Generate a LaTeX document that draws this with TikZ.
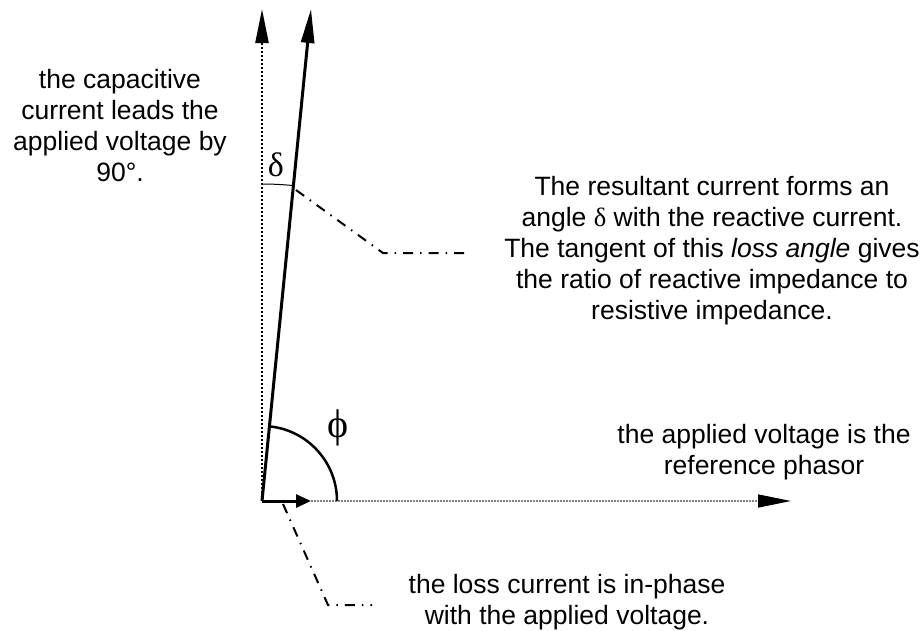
\documentclass[tikz,border=0pt]{standalone}
\usepackage{fontspec}
\setmainfont{Liberation Sans}
\newfontfamily\greekfont{Liberation Serif}
\usetikzlibrary{arrows.meta,calc}

\tikzset{
  phasor/.style={line width=3pt, -{Triangle[length=34pt,width=13pt]}},
  leader/.style={line width=2pt, dash pattern=on 10pt off 7pt on 1.5pt off 7pt},
  note/.style={align=center, inner sep=0pt, anchor=north, font=\fontsize{26.5}{31}\selectfont},
  angsym/.style={inner sep=0pt, font=\greekfont\fontsize{34}{34}\selectfont}
}

\begin{document}
\begin{tikzpicture}[x=1pt,y=-1pt]
  \useasboundingbox (0,0) rectangle (924,630);
  % phasor ends
  \coordinate (O) at (262,501);
  \coordinate (vtip) at (262,9);
  \coordinate (rtip) at (311,9);
  \coordinate (ltip) at (311,501);
  \coordinate (htip) at (791,501);
  % reactive current, resultant, loss current, applied voltage
  \draw[phasor, line width=2.2pt, dash pattern=on 2pt off 2pt] (O) -- (vtip);
  \draw[phasor] (O) -- (rtip);
  \draw[line width=3pt, -{Triangle[length=15pt,width=13pt]}] (O) -- (ltip);
  \draw[line width=1.5pt, gray, dash pattern=on 2pt off 1pt,
        -{Triangle[length=33pt,width=13pt,color=black]}] (ltip) -- (htip);
  % angles
  \draw[line width=2.5pt] ($(O)+(75,0)$) arc[start angle=0, end angle=-84.31, radius=75];
  \draw[line width=1pt] ($(O)+(-84.31:317)$) arc[start angle=-84.31, end angle=-90, radius=317];
  \node[angsym, font=\greekfont\fontsize{40}{40}\selectfont] (phi) at (338,428) {ϕ};
  \node[angsym] (delta) at (276,165) {δ};
  % leaders
  \coordinate (d1) at (296,190);
  \coordinate (d2) at (383,253);
  \coordinate (d3) at (465,253);
  \draw[leader] (d1) -- (d2) -- (d3);
  \coordinate (l1) at (283,504);
  \coordinate (l2) at (328,605);
  \coordinate (l3) at (372,605);
  \draw[leader] (l1) -- (l2) -- (l3);
  % notes
  \node[note] (capnote) at (120,69) {the capacitive\\current leads the\\applied voltage by\\90°.};
  \node[note] (lossangle) at (712,176) {The resultant current forms an\\angle {\greekfont δ} with the reactive current.\\The tangent of this \textit{loss angle} gives\\the ratio of reactive impedance to\\resistive impedance.};
  \node[note] (refnote) at (764,424) {the applied voltage is the\\reference phasor};
  \node[note] (lossnote) at (567,574) {the loss current is in-phase\\with the applied voltage.};
\end{tikzpicture}
\end{document}
